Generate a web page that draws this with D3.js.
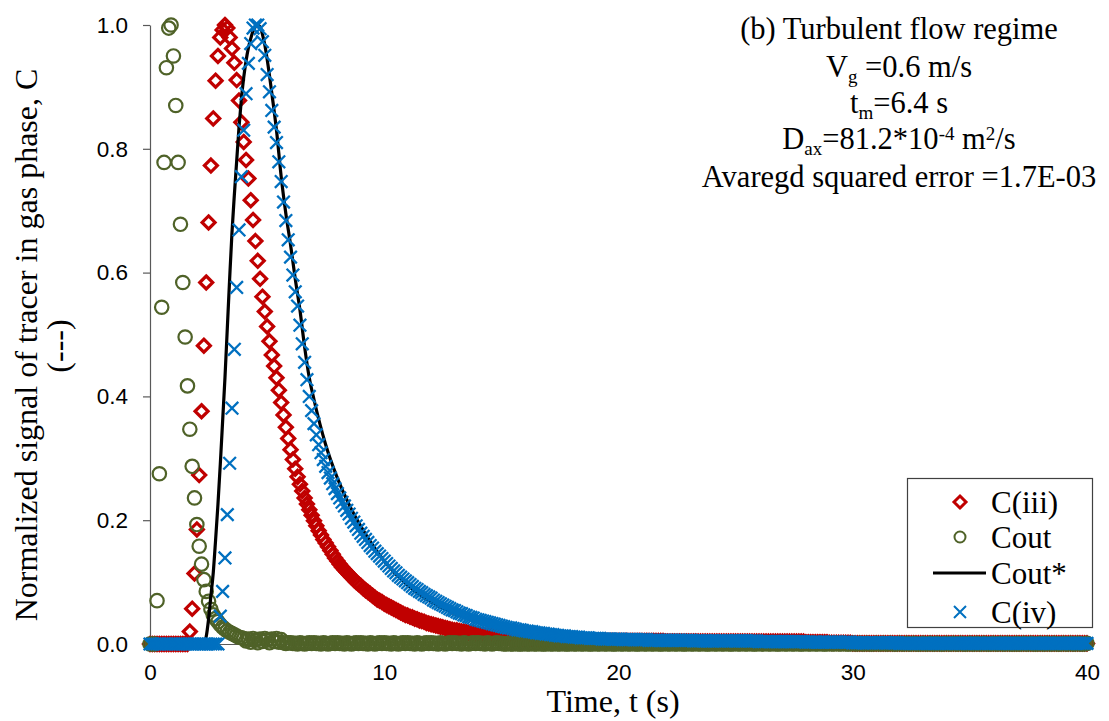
<!DOCTYPE html>
<html><head><meta charset="utf-8">
<script src="https://cdn.jsdelivr.net/npm/d3@7"></script>
<style>body{margin:0;background:#fff} svg{display:block}</style>
</head><body>
<svg id="chart" width="1109" height="721"></svg>
<script>
// sampling interval of the measured series (s): value i is at t = i * timeStep
const timeStep = 0.1;

// C(iii) measured, t = 0 .. 40 s
const cIII = [
0,0,0,0,0,0,0,0,0,0,
0,0,0,0,0,0,0,0.02,0.057,0.114,
0.185,0.273,0.376,0.482,0.584,0.681,0.773,0.849,0.91,0.95,
0.98,0.992,1,0.995,0.98,0.962,0.939,0.911,0.878,0.843,
0.811,0.782,0.752,0.717,0.685,0.651,0.619,0.59,0.561,0.537,
0.513,0.489,0.467,0.449,0.43,0.41,0.39,0.37,0.35,0.332,
0.314,0.298,0.283,0.27,0.258,0.247,0.236,0.226,0.217,0.208,
0.199,0.191,0.183,0.176,0.169,0.163,0.157,0.151,0.145,0.139,
0.134,0.129,0.124,0.12,0.116,0.112,0.108,0.104,0.1,0.097,
0.094,0.09,0.087,0.084,0.081,0.078,0.075,0.072,0.07,0.068,
0.065,0.063,0.061,0.059,0.057,0.055,0.053,0.051,0.049,0.047,
0.046,0.044,0.043,0.041,0.04,0.038,0.037,0.036,0.034,0.033,
0.032,0.031,0.03,0.029,0.028,0.027,0.026,0.025,0.024,0.023,
0.022,0.022,0.021,0.02,0.02,0.019,0.018,0.018,0.017,0.016,
0.016,0.015,0.015,0.014,0.014,0.013,0.013,0.012,0.012,0.011,
0.011,0.011,0.01,0.01,0.01,0.009,0.009,0.009,0.008,0.008,
0.008,0.008,0.007,0.007,0.007,0.007,0.006,0.006,0.006,0.006,
0.006,0.006,0.006,0.005,0.005,0.005,0.005,0.005,0.005,0.005,
0.005,0.005,0.005,0.005,0.005,0.005,0.005,0.005,0.005,0.005,
0.005,0.005,0.005,0.005,0.005,0.005,0.005,0.005,0.005,0.005,
0.005,0.005,0.005,0.005,0.005,0.005,0.005,0.005,0.005,0.005,
0.005,0.005,0.005,0.005,0.005,0.005,0.005,0.005,0.005,0.005,
0.004,0.004,0.004,0.004,0.004,0.004,0.004,0.004,0.004,0.004,
0.004,0.004,0.004,0.004,0.004,0.004,0.004,0.004,0.004,0.004,
0.004,0.004,0.004,0.004,0.004,0.004,0.004,0.004,0.004,0.004,
0.004,0.004,0.004,0.004,0.004,0.004,0.004,0.004,0.004,0.004,
0.004,0.004,0.004,0.004,0.004,0.004,0.004,0.004,0.004,0.004,
0.004,0.004,0.004,0.004,0.004,0.004,0.004,0.004,0.004,0.004,
0.003,0.003,0.003,0.003,0.003,0.003,0.003,0.003,0.003,0.003,
0.002,0.002,0.002,0.002,0.002,0.002,0.002,0.002,0.002,0.002,
0.001,0.001,0.001,0.001,0.001,0.001,0.001,0.001,0.001,0.001,
0.001,0.001,0.001,0.001,0.001,0.001,0.001,0.001,0.001,0.001,
0.001,0.001,0.001,0.001,0.001,0.001,0.001,0.001,0.001,0.001,
0.001,0.001,0.001,0.001,0.001,0.001,0.001,0.001,0.001,0.001,
0.001,0.001,0.001,0.001,0.001,0.001,0.001,0.001,0.001,0.001,
0.001,0.001,0.001,0.001,0.001,0.001,0.001,0.001,0.001,0.001,
0.001,0.001,0.001,0.001,0.001,0.001,0.001,0.001,0.001,0.001,
0.001,0.001,0.001,0.001,0.001,0.001,0.001,0.001,0.001,0.001,
0.001,0.001,0.001,0.001,0.001,0.001,0.001,0.001,0.001,0.001,
0.001,0.001,0.001,0.001,0.001,0.001,0.001,0.001,0.001,0.001,
0.001
];

// Cout measured, t = 0 .. 40 s
const cOut = [
0,0,0,0.07,0.275,0.544,0.778,0.931,0.995,1,
0.95,0.87,0.778,0.678,0.584,0.496,0.417,0.347,0.287,0.236,
0.193,0.158,0.129,0.104,0.085,0.069,0.056,0.047,0.041,0.036,
0.031,0.027,0.024,0.021,0.019,0.017,0.015,0.013,0.011,0.01,
0.009,0.005,0.008,0.003,0.009,0.006,0.002,0.008,0.004,0.009,
0.006,0.002,0.008,0.004,0.009,0.003,0.007,0.002,0.001,0.002,
0.002,0.001,0.001,0,0.002,0.001,0,0.001,0.002,0.001,
0.002,0.001,0.001,0,0.002,0.001,0,0.001,0.002,0.001,
0.002,0.001,0.001,0,0.002,0.001,0,0.001,0.002,0.001,
0.002,0.001,0.001,0,0.002,0.001,0,0.001,0.002,0.001,
0.002,0.001,0.001,0,0.002,0.001,0,0.001,0.002,0.001,
0.002,0.001,0.001,0,0.002,0.001,0,0.001,0.002,0.001,
0.002,0.001,0.001,0,0.002,0.001,0,0.001,0.002,0.001,
0.002,0.001,0.001,0,0.002,0.001,0,0.001,0.002,0.001,
0.002,0.001,0.001,0,0.002,0.001,0,0.001,0.002,0.001,
0.001,0,0,0.001,0,0,0.001,0,0,0,
0.001,0,0,0.001,0,0,0.001,0,0,0,
0.001,0,0,0.001,0,0,0.001,0,0,0,
0.001,0,0,0.001,0,0,0.001,0,0,0,
0.001,0,0,0.001,0,0,0.001,0,0,0,
0.001,0,0,0.001,0,0,0.001,0,0,0,
0.001,0,0,0.001,0,0,0.001,0,0,0,
0.001,0,0,0.001,0,0,0.001,0,0,0,
0.001,0,0,0.001,0,0,0.001,0,0,0,
0.001,0,0,0.001,0,0,0.001,0,0,0,
0.001,0,0,0.001,0,0,0.001,0,0,0,
0.001,0,0,0.001,0,0,0.001,0,0,0,
0.001,0,0,0.001,0,0,0.001,0,0,0,
0.001,0,0,0.001,0,0,0.001,0,0,0,
0.001,0,0,0.001,0,0,0.001,0,0,0,
0.001,0,0,0.001,0,0,0.001,0,0,0,
0.001,0,0,0.001,0,0,0.001,0,0,0,
0.001,0,0,0.001,0,0,0.001,0,0,0,
0.001,0,0,0.001,0,0,0.001,0,0,0,
0.001,0,0,0.001,0,0,0.001,0,0,0,
0.001,0,0,0.001,0,0,0.001,0,0,0,
0.001,0,0,0.001,0,0,0.001,0,0,0,
0.001,0,0,0.001,0,0,0.001,0,0,0,
0.001,0,0,0.001,0,0,0.001,0,0,0,
0.001,0,0,0.001,0,0,0.001,0,0,0,
0.001
];

// C(iv) measured, t = 0 .. 40 s
const cIV = [
0,0,0,0,0,0,0,0,0,0,
0,0,0,0,0,0,0,0,0,0,
0,0,0,0,0,0,0,0,0,0,
0.045,0.085,0.139,0.209,0.292,0.381,0.476,0.576,0.669,0.755,
0.83,0.889,0.938,0.97,0.995,1,1,0.994,0.973,0.951,
0.92,0.892,0.862,0.835,0.81,0.779,0.747,0.714,0.684,0.653,
0.625,0.596,0.569,0.546,0.515,0.485,0.455,0.427,0.4,0.377,
0.356,0.338,0.322,0.309,0.298,0.287,0.277,0.268,0.259,0.251,
0.243,0.236,0.229,0.223,0.216,0.21,0.203,0.197,0.191,0.185,
0.179,0.174,0.169,0.164,0.159,0.155,0.15,0.146,0.142,0.138,
0.134,0.13,0.126,0.122,0.118,0.115,0.111,0.108,0.105,0.102,
0.099,0.096,0.093,0.09,0.088,0.085,0.083,0.08,0.078,0.076,
0.074,0.071,0.069,0.067,0.065,0.063,0.061,0.059,0.057,0.055,
0.054,0.052,0.05,0.049,0.047,0.046,0.044,0.043,0.042,0.04,
0.039,0.038,0.037,0.036,0.035,0.034,0.033,0.032,0.031,0.03,
0.029,0.028,0.027,0.026,0.026,0.025,0.024,0.023,0.023,0.022,
0.021,0.021,0.02,0.02,0.019,0.018,0.018,0.017,0.017,0.016,
0.016,0.015,0.015,0.014,0.014,0.013,0.013,0.013,0.012,0.012,
0.012,0.011,0.011,0.011,0.01,0.01,0.01,0.01,0.009,0.009,
0.009,0.009,0.009,0.008,0.008,0.008,0.008,0.008,0.008,0.008,
0.008,0.008,0.007,0.007,0.007,0.007,0.007,0.007,0.007,0.007,
0.007,0.007,0.007,0.006,0.006,0.006,0.006,0.006,0.006,0.006,
0.006,0.006,0.006,0.006,0.006,0.006,0.006,0.006,0.006,0.006,
0.006,0.006,0.005,0.005,0.005,0.005,0.005,0.005,0.005,0.005,
0.005,0.005,0.005,0.005,0.005,0.005,0.005,0.005,0.005,0.005,
0.005,0.005,0.005,0.005,0.005,0.005,0.005,0.005,0.005,0.005,
0.004,0.004,0.004,0.004,0.004,0.004,0.004,0.004,0.004,0.004,
0.004,0.004,0.004,0.004,0.004,0.004,0.004,0.004,0.004,0.004,
0.003,0.003,0.003,0.003,0.003,0.003,0.003,0.003,0.003,0.003,
0.003,0.003,0.003,0.003,0.003,0.003,0.003,0.003,0.003,0.003,
0.002,0.002,0.002,0.002,0.002,0.002,0.002,0.002,0.002,0.002,
0.002,0.002,0.002,0.002,0.002,0.002,0.002,0.002,0.002,0.002,
0.001,0.001,0.001,0.001,0.001,0.001,0.001,0.001,0.001,0.001,
0.001,0.001,0.001,0.001,0.001,0.001,0.001,0.001,0.001,0.001,
0.001,0.001,0.001,0.001,0.001,0.001,0.001,0.001,0.001,0.001,
0.001,0.001,0.001,0.001,0.001,0.001,0.001,0.001,0.001,0.001,
0.001,0.001,0.001,0.001,0.001,0.001,0.001,0.001,0.001,0.001,
0.001,0.001,0.001,0.001,0.001,0.001,0.001,0.001,0.001,0.001,
0.001,0.001,0.001,0.001,0.001,0.001,0.001,0.001,0.001,0.001,
0.001,0.001,0.001,0.001,0.001,0.001,0.001,0.001,0.001,0.001,
0.001
];

// Cout* model curve
const cStarT = [0,2.3,2.4,2.5,2.6,2.7,2.8,2.9,3.0,3.1,3.2,3.3,3.4,3.5,3.6,3.7,3.8,3.9,4.0,4.1,4.2,4.3,4.4,4.5,4.6,4.7,4.8,4.9,5.0,5.2,5.4,5.6,5.8,6.0,6.2,6.4,6.6,6.8,7.0,7.5,8.0,8.5,9.0,9.5,10,11,12,13,14,15,16,17,18,20,22,25,30,35,40];
const cStarV = [0,0,0.012,0.04,0.078,0.115,0.168,0.225,0.29,0.36,0.43,0.51,0.59,0.665,0.725,0.78,0.835,0.88,0.915,0.942,0.963,0.978,0.99,0.997,1,0.997,0.985,0.968,0.945,0.89,0.83,0.755,0.695,0.645,0.59,0.54,0.48,0.43,0.395,0.322,0.268,0.225,0.19,0.16,0.134,0.095,0.068,0.049,0.036,0.026,0.019,0.014,0.01,0.005,0.0025,0.001,0,0,0];

const xTicks = [0, 10, 20, 30, 40];
const yTicks = [0, 0.2, 0.4, 0.6, 0.8, 1.0];
const legendLabels = ["C(iii)", "Cout", "Cout*", "C(iv)"];

const SERIF = "'Liberation Serif','Times New Roman',serif";
const SANS = "'Liberation Sans',Arial,sans-serif";
const RED = "#C00000", GREEN = "#4F6228", BLUE = "#0070C0";

const svg = d3.select("#chart");
const x = d3.scaleLinear().domain([0, 40]).range([150, 1087]);
const y = d3.scaleLinear().domain([0, 1]).range([644, 25]);

// axes
const yAxis = svg.append("g").attr("transform", "translate(150,0)")
  .call(d3.axisLeft(y).tickValues(yTicks).tickFormat(d3.format(".1f")).tickSize(7).tickPadding(15).tickSizeOuter(0));
yAxis.select(".domain").attr("stroke", "#595959").attr("stroke-width", 1.2);
yAxis.selectAll(".tick line").attr("stroke", "#595959").attr("stroke-width", 1.2);
yAxis.selectAll("text").attr("font-family", SANS).attr("font-size", 22.5).attr("fill", "#000");

const xAxis = svg.append("g").attr("transform", "translate(0,644)")
  .call(d3.axisBottom(x).tickValues(xTicks).tickFormat(d3.format("d")).tickSize(0).tickPadding(20).tickSizeOuter(0));
xAxis.select(".domain").attr("stroke", "#595959").attr("stroke-width", 1.2);
xAxis.selectAll("text").attr("font-family", SANS).attr("font-size", 22.5).attr("fill", "#000");

// marker helpers
const diamondPath = s => `M0,${-s}L${s},0L0,${s}L${-s},0Z`;
const crossPath = s => `M${-s},${-s}L${s},${s}M${-s},${s}L${s},${-s}`;

function pts(arr) { return arr.map((v, i) => ({t: i * timeStep, v})); }

// C(iii)
svg.append("g").selectAll("path").data(pts(cIII)).join("path")
  .attr("d", diamondPath(6.5))
  .attr("transform", d => `translate(${x(d.t)},${y(d.v)})`)
  .attr("fill", "none").attr("stroke", RED).attr("stroke-width", 3.2);

// Cout
svg.append("g").selectAll("circle").data(pts(cOut)).join("circle")
  .attr("cx", d => x(d.t)).attr("cy", d => y(d.v)).attr("r", 6.7)
  .attr("fill", "none").attr("stroke", GREEN).attr("stroke-width", 2.2);

// Cout*
const line = d3.line().x((d, i) => x(cStarT[i])).y(d => y(d)).curve(d3.curveMonotoneX);
svg.append("path").datum(cStarV).attr("d", line)
  .attr("fill", "none").attr("stroke", "#000").attr("stroke-width", 3.2);

// C(iv)
svg.append("g").selectAll("path").data(pts(cIV)).join("path")
  .attr("d", crossPath(6.3))
  .attr("transform", d => `translate(${x(d.t)},${y(d.v)})`)
  .attr("fill", "none").attr("stroke", BLUE).attr("stroke-width", 2.3);

// axis titles
svg.append("text").attr("x", 613).attr("y", 712).attr("text-anchor", "middle")
  .attr("font-family", SERIF).attr("font-size", 32).text("Time, t (s)");
svg.append("text").attr("transform", "translate(37,345) rotate(-90)").attr("text-anchor", "middle")
  .attr("font-family", SERIF).attr("font-size", 32).text("Normalized signal of tracer in gas phase, C");
svg.append("text").attr("transform", "translate(69,346) rotate(-90)").attr("text-anchor", "middle")
  .attr("font-family", SERIF).attr("font-size", 32).text("(---)");

// annotation
const annX = 899;
const annLines = [
  {y: 39, parts: [["(b) Turbulent flow regime", "n"]]},
  {y: 77, parts: [["V", "n"], ["g", "sub"], [" =0.6 m/s", "n"]]},
  {y: 113, parts: [["t", "n"], ["m", "sub"], ["=6.4 s", "n"]]},
  {y: 149, parts: [["D", "n"], ["ax", "sub"], ["=81.2*10", "n"], ["-4", "sup"], [" m", "n"], ["2", "sup"], ["/s", "n"]]},
  {y: 187, parts: [["Avaregd squared error =1.7E-03", "n"]]}
];
annLines.forEach(l => {
  const t = svg.append("text").attr("x", annX).attr("y", l.y).attr("text-anchor", "middle")
    .attr("font-family", SERIF).attr("font-size", 30.5).attr("fill", "#000");
  let shift = 0;
  l.parts.forEach(([txt, kind]) => {
    const target = kind === "sub" ? 6 : kind === "sup" ? -9 : 0;
    t.append("tspan").attr("dy", target - shift).attr("font-size", kind === "n" ? 30.5 : 19)
      .style("white-space", "pre").text(txt);
    shift = target;
  });
});

// legend
const lg = svg.append("g");
lg.append("rect").attr("x", 907.5).attr("y", 478.5).attr("width", 185).attr("height", 149)
  .attr("fill", "#fff").attr("stroke", "#404040").attr("stroke-width", 1.2);
const ly = [502, 537, 573, 612];
legendLabels.forEach((lab, i) => {
  const cy = ly[i];
  if (i === 0) lg.append("path").attr("d", diamondPath(6)).attr("transform", `translate(960,${cy})`)
    .attr("fill", "none").attr("stroke", RED).attr("stroke-width", 3);
  if (i === 1) lg.append("circle").attr("cx", 960).attr("cy", cy).attr("r", 5.5)
    .attr("fill", "none").attr("stroke", GREEN).attr("stroke-width", 2);
  if (i === 2) lg.append("line").attr("x1", 933).attr("x2", 986).attr("y1", cy).attr("y2", cy)
    .attr("stroke", "#000").attr("stroke-width", 3.2);
  if (i === 3) lg.append("path").attr("d", crossPath(6)).attr("transform", `translate(960,${cy})`)
    .attr("fill", "none").attr("stroke", BLUE).attr("stroke-width", 2);
  lg.append("text").attr("x", 991).attr("y", cy + 10.5).attr("font-family", SERIF).attr("font-size", 31)
    .attr("fill", "#000").text(lab);
});
</script>
</body></html>
